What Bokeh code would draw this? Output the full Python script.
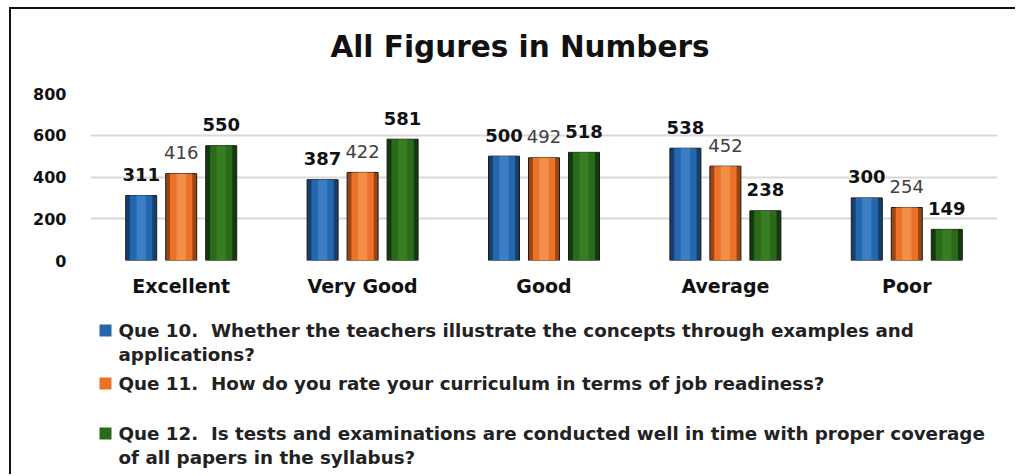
from bokeh.plotting import figure
from bokeh.layouts import column
from bokeh.models import Range1d, FactorRange, FixedTicker, ColumnDataSource
from bokeh.transform import dodge
from bokeh.core.properties import value
from bokeh.embed import file_html
from bokeh.resources import INLINE

categories = ["Excellent", "Very Good", "Good", "Average", "Poor"]
que10 = [311, 387, 500, 538, 300]
que11 = [416, 422, 492, 452, 254]
que12 = [550, 581, 518, 238, 149]
y_ticks = [0, 200, 400, 600, 800]
title_text = "All Figures in Numbers"
legend_labels = [
    "Que 10.\u00a0 Whether the teachers illustrate the concepts through examples and\napplications?",
    "Que 11.\u00a0 How do you rate your curriculum in terms of job readiness?",
    "Que 12.\u00a0 Is tests and examinations are conducted well in time with proper coverage\nof all papers in the syllabus?",
]
series_colors = ["#2566ad", "#ea7329", "#2a6a1a"]

W = 1004
X0, Y0 = 11, 9          # page position of the content box (after margin + border)
H_HEAD, H_CHART, H_FOOT = 66, 234, 165
FL, FR = 90 - X0, (X0 + W) - 997


def blank_fig(h):
    f = figure(width=W, height=h, x_range=Range1d(FL, W - FR), y_range=Range1d(h, 0),
               output_backend="svg", toolbar_location=None, x_axis_type=None, y_axis_type=None,
               min_border_left=FL, min_border_right=FR, min_border_top=0, min_border_bottom=0)
    f.outline_line_color = None
    f.xgrid.grid_line_color = None
    f.ygrid.grid_line_color = None
    f.background_fill_color = "white"
    f.border_fill_color = "white"
    return f


# ---- header (title)
head = blank_fig(H_HEAD)
head.text(x=[519.5 - X0], y=[46 - Y0], text=[title_text], text_align="center",
          text_baseline="middle", text_font=value("DejaVu Sans"), text_font_style="bold",
          text_font_size="29.5px", text_color="#111111")

# ---- chart
top_y = Y0 + H_HEAD
FT, FB = 93 - top_y, (top_y + H_CHART) - 260
frame_w = W - FL - FR

p = figure(width=W, height=H_CHART, x_range=FactorRange(*categories), y_range=Range1d(0, 800),
           output_backend="svg", toolbar_location=None,
           min_border_left=FL, min_border_top=FT, min_border_right=FR, min_border_bottom=FB)
p.outline_line_color = None
p.background_fill_color = "white"
p.border_fill_color = "white"
p.xgrid.grid_line_color = None
p.ygrid.grid_line_color = "#d9d9d9"
p.ygrid.grid_line_width = 2
p.yaxis.ticker = FixedTicker(ticks=y_ticks)
for ax in (p.xaxis, p.yaxis):
    ax.axis_line_color = None
    ax.major_tick_line_color = None
    ax.minor_tick_line_color = None
    ax.major_label_text_font = "DejaVu Sans"
    ax.major_label_text_font_style = "bold"
    ax.major_label_text_color = "#111111"
p.yaxis.major_label_text_font_size = "16px"
p.yaxis.major_label_standoff = 18
p.xaxis.major_label_text_font_size = "19px"
p.xaxis.major_label_standoff = 8

cat_px = frame_w / len(categories)
off = 40 / cat_px
bw = 31 / cat_px

styles = [
    (-off, ("#163f70", "#2566ad", "#4a8fd6"), "#111111", "bold"),
    (0.0, ("#9c4512", "#ea7329", "#f8a060"), "#404040", "normal"),
    (off, ("#123a0b", "#2a6a1a", "#3f8a2a"), "#111111", "bold"),
]

source = ColumnDataSource({
    "cat": categories, "q10": que10, "q11": que11, "q12": que12,
    "l10": [str(v) for v in que10], "l11": [str(v) for v in que11], "l12": [str(v) for v in que12],
})
keys = [("q10", "l10"), ("q11", "l11"), ("q12", "l12")]

for (o, cols, lc, fs), (k, lk) in zip(styles, keys):
    xd = dodge("cat", o, range=p.x_range)
    p.vbar(x=xd, top=k, width=bw, source=source, fill_color=cols[0], line_color="#1a1a1a", line_width=1)
    p.vbar(x=xd, top=k, width=bw * 0.72, source=source, fill_color=cols[1], line_color=None)
    p.vbar(x=xd, top=k, width=bw * 0.3, source=source, fill_color=cols[2], line_color=None, fill_alpha=0.6)
    p.text(x=xd, y=k, text=lk, source=source, text_align="center", text_baseline="alphabetic",
           y_offset=-21, text_font=value("DejaVu Sans"), text_font_style=fs,
           text_font_size="18px", text_color=lc)

# ---- footer (legend)
foot_y = top_y + H_CHART
foot = blank_fig(H_FOOT)
item_y = [330, 383, 433]          # page y of first line of each item
line_gap = 24
for lab, c, yy in zip(legend_labels, series_colors, item_y):
    foot.rect(x=[105 - X0], y=[yy - foot_y], width=12, height=12, width_units="screen",
              height_units="screen", fill_color=c, line_color=None)
    for i, line in enumerate(lab.split("\n")):
        foot.text(x=[118 - X0], y=[yy + i * line_gap - foot_y], text=[line], text_align="left",
                  text_baseline="middle", text_font=value("DejaVu Sans"), text_font_style="bold",
                  text_font_size="18.3px", text_color="#222222")

layout = column(head, p, foot, spacing=0,
                styles={"border-top": "2px solid #111111", "border-left": "2px solid #111111",
                        "margin-left": "9px", "margin-top": "7px"})

open("out.html", "w").write(file_html(layout, INLINE))
